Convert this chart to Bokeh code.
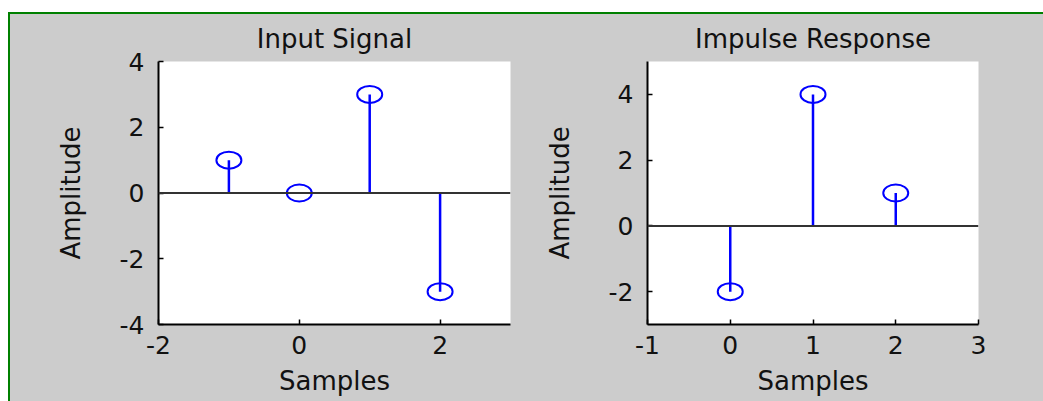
from bokeh.plotting import figure
from bokeh.layouts import row, column, Spacer
from bokeh.models import FixedTicker, Span, Range1d, PrintfTickFormatter
from bokeh.embed import file_html
from bokeh.resources import INLINE

# ---- data ----
n_input = [-1, 0, 1, 2]
x_input = [1, 0, 3, -3]
n_imp = [0, 1, 2]
h_imp = [-2, 4, 1]

xticks_input = [-2, 0, 2]
yticks_input = [-4, -2, 0, 2, 4]
xticks_imp = [-1, 0, 1, 2, 3]
yticks_imp = [-2, 0, 2, 4]

GRAY = "#cccccc"
GREEN = "#008000"
BLUE = "#0000ff"
FONT = "DejaVu Sans"
TXT = "#111111"


def make_panel(title, n, vals, xr, yr, xt, yt, width, bl, br):
    p = figure(width=width, height=387, x_range=Range1d(*xr), y_range=Range1d(*yr),
               output_backend="svg", toolbar_location=None,
               min_border_left=bl, min_border_right=br,
               min_border_top=47, min_border_bottom=77)
    p.border_fill_color = GRAY
    p.background_fill_color = "white"
    p.outline_line_color = None
    p.grid.visible = False

    p.title.text = title
    p.title.align = "center"
    p.title.offset = -5
    p.title.text_font = FONT
    p.title.text_font_size = "26px"
    p.title.text_font_style = "normal"
    p.title.text_color = TXT
    p.title.standoff = 15

    for ax in (p.xaxis[0], p.yaxis[0]):
        ax.axis_line_color = "black"
        ax.axis_line_width = 2
        ax.major_tick_line_color = "black"
        ax.major_tick_line_width = 1.5
        ax.major_tick_in = 5
        ax.major_tick_out = 0
        ax.minor_tick_line_color = None
        ax.formatter = PrintfTickFormatter(format="%d")
        ax.major_label_text_font = FONT
        ax.major_label_text_font_size = "25px"
        ax.major_label_text_color = TXT
        ax.axis_label_text_font = FONT
        ax.axis_label_text_font_size = "26px"
        ax.axis_label_text_font_style = "normal"
        ax.axis_label_text_color = TXT

    p.xaxis[0].ticker = FixedTicker(ticks=xt)
    p.yaxis[0].ticker = FixedTicker(ticks=yt)
    p.xaxis[0].axis_label = "Samples"
    p.yaxis[0].axis_label = "Amplitude"
    p.xaxis[0].major_label_standoff = 11
    p.xaxis[0].axis_label_standoff = 9
    p.yaxis[0].major_label_standoff = 14
    p.yaxis[0].axis_label_standoff = 31

    p.add_layout(Span(location=0, dimension="width", line_color="#333333", line_width=2))
    p.segment(x0=n, y0=[0] * len(n), x1=n, y1=vals, line_color=BLUE, line_width=2.5)
    p.ellipse(x=n, y=vals, width=25, height=17, width_units="screen", height_units="screen",
              fill_color=None, line_color=BLUE, line_width=2)
    return p


p1 = make_panel("Input Signal", n_input, x_input, (-2, 3), (-4, 4),
                xticks_input, yticks_input, 510, 148, 10)
p2 = make_panel("Impulse Response", n_imp, h_imp, (-1, 3), (-3, 5),
                xticks_imp, yticks_imp, 523, 127, 65)

layout = column(
    Spacer(width=1043, height=12),
    row(Spacer(width=8, height=389),
        Spacer(width=2, height=389, styles={"background-color": GREEN}),
        column(Spacer(width=1033, height=2, styles={"background-color": GREEN}),
               row(p1, p2, styles={"background-color": GRAY}))),
)

open("out.html", "w").write(file_html(layout, INLINE))
